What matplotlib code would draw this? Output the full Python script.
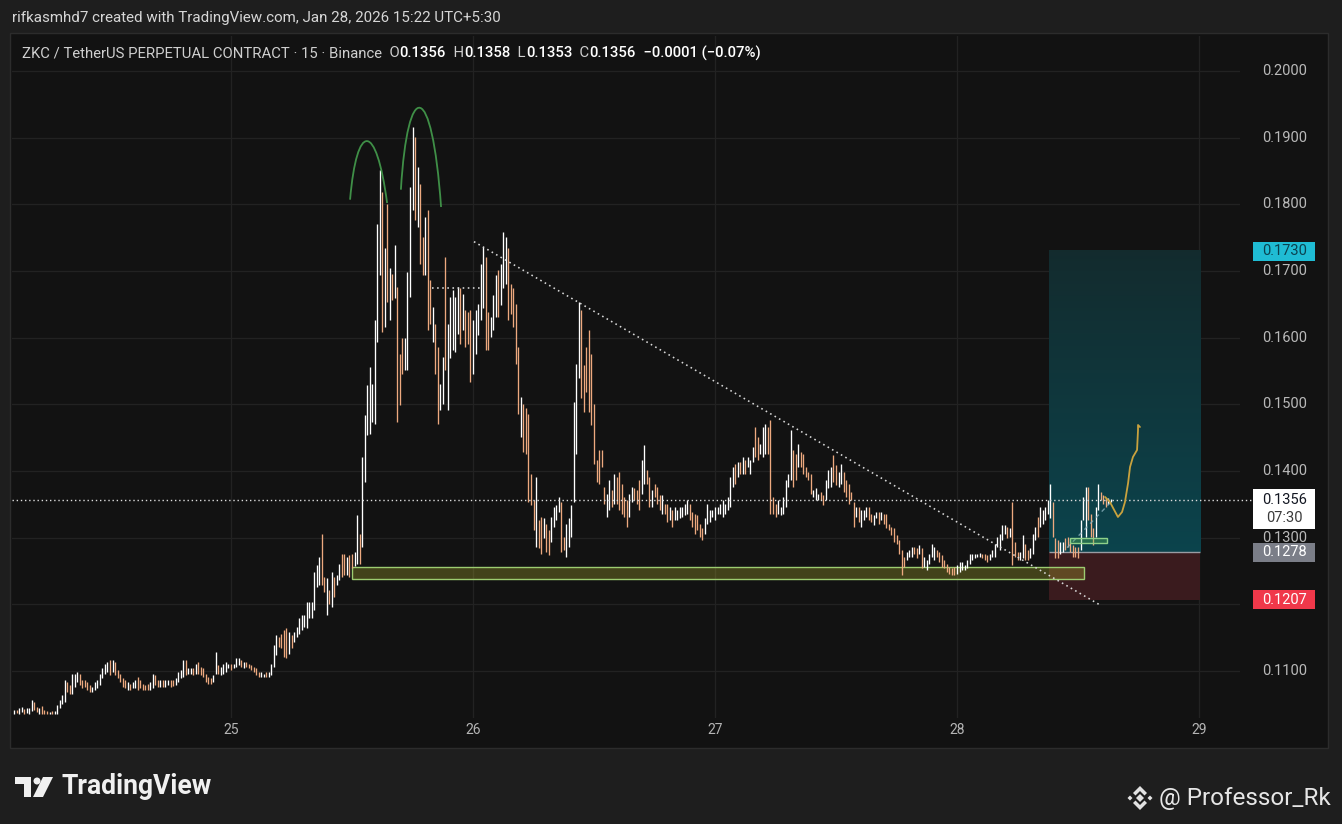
import numpy as np
import matplotlib
matplotlib.use("Agg")
import matplotlib.pyplot as plt
import matplotlib.transforms as mtransforms
from matplotlib.patches import Rectangle, Polygon, PathPatch, Ellipse
from matplotlib.path import Path

# ---------------- data ----------------
header_text = "rifkasmhd7 created with TradingView.com, Jan 28, 2026 15:22 UTC+5:30"
symbol_title = "ZKC / TetherUS PERPETUAL CONTRACT \u00b7 15 \u00b7 Binance"
last_open, last_high, last_low, last_close = 0.1356, 0.1358, 0.1353, 0.1356
change_text = "\u22120.0001 (\u22120.07%)"
countdown = "07:30"

price_ticks = [0.11, 0.12, 0.13, 0.14, 0.15, 0.16, 0.17, 0.18, 0.19, 0.20]
day_ticks = [25, 26, 27, 28, 29]

last_bar_day = 28 + 15.25 / 24      # Jan 28, 15:15 bar
bar_step_day = 15 / 1440            # 15-minute bars

bar_high = [
    0.1041, 0.1042, 0.1044, 0.1046, 0.1043, 0.1044, 0.1045, 0.1057, 0.1054, 0.1046,
    0.1044, 0.1047, 0.1041, 0.1040, 0.1039, 0.1040, 0.1040, 0.1049, 0.1056, 0.1064,
    0.1086, 0.1084, 0.1079, 0.1096, 0.1096, 0.1098, 0.1096, 0.1086, 0.1086, 0.1084,
    0.1079, 0.1076, 0.1084, 0.1086, 0.1096, 0.1104, 0.1111, 0.1114, 0.1116, 0.1116,
    0.1114, 0.1101, 0.1096, 0.1089, 0.1086, 0.1084, 0.1081, 0.1084, 0.1086, 0.1091,
    0.1086, 0.1081, 0.1079, 0.1081, 0.1084, 0.1096, 0.1094, 0.1086, 0.1086, 0.1086,
    0.1086, 0.1086, 0.1086, 0.1086, 0.1089, 0.1099, 0.1101, 0.1116, 0.1116, 0.1104,
    0.1104, 0.1104, 0.1111, 0.1114, 0.1106, 0.1104, 0.1096, 0.1091, 0.1089, 0.1094,
    0.1129, 0.1109, 0.1106, 0.1111, 0.1114, 0.1111, 0.1111, 0.1111, 0.1119, 0.1119,
    0.1116, 0.1114, 0.1114, 0.1111, 0.1109, 0.1106, 0.1104, 0.1099, 0.1099, 0.1096,
    0.1099, 0.1099, 0.1111, 0.1139, 0.1154, 0.1151, 0.1156, 0.1161, 0.1164, 0.1159,
    0.1154, 0.1159, 0.1166, 0.1179, 0.1184, 0.1184, 0.1204, 0.1204, 0.1204, 0.1249,
    0.1259, 0.1271, 0.1306, 0.1241, 0.1239, 0.1221, 0.1249, 0.1241, 0.1244, 0.1261,
    0.1276, 0.1276, 0.1271, 0.1274, 0.1276, 0.1279, 0.1334, 0.1306, 0.1421, 0.1484,
    0.1529, 0.1556, 0.1531, 0.1626, 0.1771, 0.1851, 0.1819, 0.1734, 0.1801, 0.1704,
    0.1696, 0.1739, 0.1676, 0.1576, 0.1599, 0.1599, 0.1699, 0.1826, 0.1916, 0.1901,
    0.1856, 0.1831, 0.1751, 0.1781, 0.1791, 0.1686, 0.1646, 0.1621, 0.1586, 0.1531,
    0.1571, 0.1721, 0.1621, 0.1661, 0.1671, 0.1661, 0.1676, 0.1674, 0.1666, 0.1641,
    0.1639, 0.1641, 0.1626, 0.1641, 0.1651, 0.1711, 0.1736, 0.1721, 0.1639, 0.1631,
    0.1664, 0.1694, 0.1701, 0.1711, 0.1759, 0.1751, 0.1734, 0.1681, 0.1674, 0.1651,
    0.1586, 0.1511, 0.1501, 0.1494, 0.1486, 0.1396, 0.1356, 0.1391, 0.1326, 0.1331,
    0.1329, 0.1321, 0.1311, 0.1331, 0.1346, 0.1349, 0.1361, 0.1354, 0.1301, 0.1321,
    0.1329, 0.1349, 0.1504, 0.1561, 0.1654, 0.1641, 0.1559, 0.1586, 0.1611, 0.1576,
    0.1501, 0.1416, 0.1431, 0.1431, 0.1376, 0.1366, 0.1386, 0.1371, 0.1396, 0.1391,
    0.1399, 0.1381, 0.1361, 0.1356, 0.1366, 0.1376, 0.1374, 0.1371, 0.1386, 0.1416,
    0.1439, 0.1401, 0.1391, 0.1371, 0.1381, 0.1376, 0.1364, 0.1364, 0.1351, 0.1351,
    0.1346, 0.1341, 0.1346, 0.1341, 0.1346, 0.1346, 0.1351, 0.1356, 0.1351, 0.1339,
    0.1336, 0.1334, 0.1321, 0.1314, 0.1329, 0.1351, 0.1341, 0.1341, 0.1346, 0.1346,
    0.1351, 0.1356, 0.1351, 0.1361, 0.1391, 0.1406, 0.1411, 0.1414, 0.1414, 0.1421,
    0.1416, 0.1421, 0.1416, 0.1436, 0.1466, 0.1451, 0.1441, 0.1466, 0.1471, 0.1466,
    0.1476, 0.1361, 0.1351, 0.1356, 0.1346, 0.1361, 0.1386, 0.1396, 0.1461, 0.1431,
    0.1426, 0.1441, 0.1429, 0.1426, 0.1406, 0.1399, 0.1396, 0.1371, 0.1374, 0.1366,
    0.1369, 0.1364, 0.1386, 0.1401, 0.1406, 0.1424, 0.1409, 0.1399, 0.1411, 0.1399,
    0.1386, 0.1381, 0.1369, 0.1354, 0.1346, 0.1346, 0.1341, 0.1341, 0.1346, 0.1346,
    0.1336, 0.1334, 0.1339, 0.1339, 0.1339, 0.1336, 0.1336, 0.1321, 0.1316, 0.1314,
    0.1304, 0.1296, 0.1281, 0.1271, 0.1279, 0.1281, 0.1286, 0.1286, 0.1284, 0.1289,
    0.1284, 0.1271, 0.1266, 0.1276, 0.1291, 0.1286, 0.1281, 0.1279, 0.1274, 0.1266,
    0.1261, 0.1256, 0.1254, 0.1256, 0.1259, 0.1264, 0.1264, 0.1259, 0.1266, 0.1276,
    0.1276, 0.1276, 0.1276, 0.1277, 0.1276, 0.1276, 0.1274, 0.1276, 0.1281, 0.1291,
    0.1301, 0.1306, 0.1319, 0.1319, 0.1316, 0.1314, 0.1354, 0.1294, 0.1279, 0.1279,
    0.1304, 0.1291, 0.1281, 0.1284, 0.1306, 0.1316, 0.1331, 0.1346, 0.1341, 0.1346,
    0.1356, 0.1381, 0.1354, 0.1299, 0.1296, 0.1294, 0.1294, 0.1299, 0.1301, 0.1294,
    0.1289, 0.1286, 0.1286, 0.1326, 0.1361, 0.1376, 0.1376, 0.1336, 0.1314, 0.1346,
    0.1381, 0.1369, 0.1364, 0.1359, 0.1359, 0.1358,
]

bar_low = [
    0.1036, 0.1037, 0.1036, 0.1039, 0.1036, 0.1037, 0.1036, 0.1040, 0.1041, 0.1039,
    0.1036, 0.1036, 0.1036, 0.1036, 0.1035, 0.1036, 0.1036, 0.1036, 0.1044, 0.1051,
    0.1054, 0.1069, 0.1066, 0.1066, 0.1076, 0.1084, 0.1079, 0.1074, 0.1076, 0.1071,
    0.1069, 0.1069, 0.1071, 0.1074, 0.1079, 0.1089, 0.1096, 0.1099, 0.1094, 0.1099,
    0.1094, 0.1089, 0.1084, 0.1076, 0.1074, 0.1071, 0.1071, 0.1074, 0.1074, 0.1071,
    0.1074, 0.1071, 0.1071, 0.1071, 0.1071, 0.1074, 0.1079, 0.1076, 0.1076, 0.1076,
    0.1076, 0.1079, 0.1076, 0.1078, 0.1079, 0.1084, 0.1089, 0.1091, 0.1094, 0.1096,
    0.1096, 0.1094, 0.1096, 0.1096, 0.1094, 0.1091, 0.1084, 0.1081, 0.1081, 0.1084,
    0.1096, 0.1096, 0.1094, 0.1096, 0.1099, 0.1104, 0.1101, 0.1104, 0.1106, 0.1109,
    0.1106, 0.1104, 0.1106, 0.1104, 0.1101, 0.1099, 0.1094, 0.1091, 0.1091, 0.1091,
    0.1091, 0.1091, 0.1094, 0.1106, 0.1124, 0.1136, 0.1134, 0.1121, 0.1119, 0.1126,
    0.1134, 0.1144, 0.1151, 0.1156, 0.1161, 0.1166, 0.1164, 0.1179, 0.1179, 0.1191,
    0.1226, 0.1229, 0.1229, 0.1219, 0.1184, 0.1201, 0.1196, 0.1211, 0.1229, 0.1236,
    0.1241, 0.1244, 0.1244, 0.1241, 0.1254, 0.1258, 0.1261, 0.1261, 0.1286, 0.1384,
    0.1454, 0.1456, 0.1474, 0.1471, 0.1594, 0.1694, 0.1609, 0.1616, 0.1654, 0.1626,
    0.1656, 0.1659, 0.1474, 0.1499, 0.1546, 0.1551, 0.1551, 0.1661, 0.1791, 0.1776,
    0.1766, 0.1711, 0.1694, 0.1694, 0.1611, 0.1621, 0.1594, 0.1546, 0.1471, 0.1491,
    0.1501, 0.1551, 0.1491, 0.1569, 0.1581, 0.1579, 0.1606, 0.1591, 0.1611, 0.1586,
    0.1591, 0.1534, 0.1546, 0.1576, 0.1604, 0.1626, 0.1644, 0.1581, 0.1581, 0.1601,
    0.1611, 0.1631, 0.1631, 0.1649, 0.1674, 0.1681, 0.1626, 0.1636, 0.1616, 0.1561,
    0.1486, 0.1451, 0.1429, 0.1426, 0.1354, 0.1349, 0.1311, 0.1286, 0.1284, 0.1276,
    0.1299, 0.1279, 0.1274, 0.1294, 0.1316, 0.1326, 0.1339, 0.1279, 0.1281, 0.1271,
    0.1286, 0.1301, 0.1354, 0.1426, 0.1539, 0.1509, 0.1489, 0.1519, 0.1489, 0.1469,
    0.1411, 0.1384, 0.1381, 0.1406, 0.1351, 0.1331, 0.1341, 0.1346, 0.1351, 0.1351,
    0.1341, 0.1336, 0.1331, 0.1316, 0.1331, 0.1354, 0.1356, 0.1351, 0.1341, 0.1366,
    0.1381, 0.1381, 0.1346, 0.1346, 0.1361, 0.1351, 0.1341, 0.1336, 0.1336, 0.1324,
    0.1326, 0.1316, 0.1326, 0.1326, 0.1329, 0.1331, 0.1334, 0.1336, 0.1326, 0.1316,
    0.1306, 0.1311, 0.1301, 0.1296, 0.1306, 0.1321, 0.1324, 0.1331, 0.1326, 0.1336,
    0.1336, 0.1331, 0.1336, 0.1341, 0.1346, 0.1376, 0.1381, 0.1391, 0.1396, 0.1396,
    0.1396, 0.1406, 0.1396, 0.1414, 0.1421, 0.1416, 0.1426, 0.1421, 0.1426, 0.1426,
    0.1336, 0.1336, 0.1331, 0.1336, 0.1334, 0.1336, 0.1346, 0.1376, 0.1386, 0.1376,
    0.1386, 0.1406, 0.1406, 0.1396, 0.1391, 0.1386, 0.1366, 0.1361, 0.1356, 0.1356,
    0.1356, 0.1349, 0.1356, 0.1374, 0.1376, 0.1384, 0.1379, 0.1376, 0.1381, 0.1369,
    0.1361, 0.1351, 0.1356, 0.1316, 0.1331, 0.1324, 0.1316, 0.1326, 0.1331, 0.1326,
    0.1324, 0.1319, 0.1329, 0.1321, 0.1326, 0.1321, 0.1314, 0.1311, 0.1304, 0.1294,
    0.1291, 0.1276, 0.1244, 0.1256, 0.1266, 0.1271, 0.1271, 0.1276, 0.1269, 0.1276,
    0.1254, 0.1256, 0.1251, 0.1261, 0.1271, 0.1266, 0.1271, 0.1264, 0.1256, 0.1254,
    0.1249, 0.1246, 0.1244, 0.1244, 0.1246, 0.1249, 0.1251, 0.1251, 0.1254, 0.1261,
    0.1266, 0.1269, 0.1271, 0.1271, 0.1269, 0.1266, 0.1264, 0.1266, 0.1271, 0.1271,
    0.1286, 0.1281, 0.1296, 0.1306, 0.1299, 0.1301, 0.1259, 0.1271, 0.1266, 0.1266,
    0.1269, 0.1266, 0.1266, 0.1269, 0.1276, 0.1296, 0.1301, 0.1316, 0.1321, 0.1326,
    0.1336, 0.1329, 0.1301, 0.1269, 0.1269, 0.1276, 0.1279, 0.1281, 0.1286, 0.1279,
    0.1271, 0.1271, 0.1269, 0.1281, 0.1326, 0.1301, 0.1326, 0.1301, 0.1289, 0.1301,
    0.1341, 0.1356, 0.1351, 0.1346, 0.1351, 0.1353,
]

bar_dir = (
    "uduuduuudd" "uddduduuuu" "udduuudddd" "duuuuuuudu" "ddddduduud"
    "dddduuddud" "uudduuuudu" "ududdddddu" "uduuuuduuu" "dudddddduu"
    "duuuuddddu" "duuuuuuuuu" "uuddududuu" "ddudduuduu" "uuuuuududu"
    "duddduuuud" "uddudduddu" "uduuuuudud" "dduuuuuddu" "uuduuudddd"
    "dudddddudd" "udduuuuddu" "uuuuuddddd" "ddddduudud" "dddduudddu"
    "uddudddudd" "uduuuuuudd" "dddduuuuuu" "uuuuuududu" "duuudduuud"
    "ddduuuuuud" "duddddduuu" "dduuudduud" "dddduduuud" "duududdddd"
    "dddduuuddu" "duuuuudddd" "dddduuuuuu" "uuuuddduuu" "uuuududddu"
    "udduuuduuu" "uuddduuddd" "ddduuudddu" "uddduu"
)

# trade drawings on the chart
pos_start_day, pos_end_day = 28.380, 29.004
entry_price, target_price, stop_price = 0.1278, 0.1730, 0.1207
support_days, support_prices = (25.50, 28.525), (0.1238, 0.1256)
retest_days, retest_prices = (28.467, 28.620), (0.1292, 0.1300)
trend_days, trend_prices = (26.004, 28.591), (0.1744, 0.1199)
shelf_days, shelf_prices = (25.831, 26.029), (0.1675, 0.1675)
pnl_days, pnl_prices = (28.455, 28.632), (0.1285, 0.1352)
top1_days = [25.492, 25.520, 25.600, 25.645]
top1_prices = [0.1807, 0.1925, 0.1925, 0.1802]
top2_days = [25.702, 25.730, 25.830, 25.868]
top2_prices = [0.1822, 0.1990, 0.1990, 0.1796]
proj_days = [28.612, 28.632, 28.645, 28.665, 28.682, 28.694, 28.707, 28.715,
             28.727, 28.744, 28.748, 28.748, 28.756]
proj_prices = [0.1361, 0.13535, 0.13445, 0.1331, 0.13385, 0.13535, 0.1382, 0.1406,
               0.1421, 0.14315, 0.14615, 0.1469, 0.1466]

# ---------------- styling ----------------
FAM = ["Roboto", "DejaVu Sans"]
UP_COL, DOWN_COL = "#ffffff", "#eda97f"
GRID = "#222222"

W, H = 1342, 824
fig = plt.figure(figsize=(W / 100, H / 100), dpi=100)
fig.patch.set_facecolor("#1e1e1e")


def fx(x):
    return x / W


def fy(y):
    return 1 - y / H


fig.patches.append(Rectangle((fx(10), fy(748)), fx(1328) - fx(10), fy(33) - fy(748),
                             transform=fig.transFigure, facecolor="#121212",
                             edgecolor="#2c2c2c", lw=1.0, zorder=0))

ax = fig.add_axes([fx(12), fy(718), fx(1240) - fx(12), fy(36) - fy(718)])
ax.set_zorder(1)
ax.patch.set_alpha(0)
for s in ax.spines.values():
    s.set_visible(False)
ax.set_xticks([])
ax.set_yticks([])
XLIM = (24.095, 29.1694)
YLIM = (0.10295, 0.20525)

yx_tr = mtransforms.blended_transform_factory(fig.transFigure, ax.transData)
xy_tr = mtransforms.blended_transform_factory(ax.transData, fig.transFigure)
px_per_price = (718 - 36) / (YLIM[1] - YLIM[0])

# grid
for p in price_ticks:
    ax.axhline(p, color=GRID, lw=0.9, zorder=0.5)
for d in day_ticks:
    ax.axvline(d, color=GRID, lw=0.9, zorder=0.5)

# position tool (long)
top_c = np.array([0.075, 0.170, 0.180])
bot_c = np.array([0.045, 0.265, 0.300])
g = np.linspace(0, 1, 256)[:, None, None]
grad = bot_c[None, None, :] * (1 - g) + top_c[None, None, :] * g
ax.imshow(grad, origin="lower", aspect="auto", interpolation="bilinear",
          extent=[pos_start_day, pos_end_day, entry_price, target_price], zorder=1)
ax.add_patch(Rectangle((pos_start_day, stop_price), pos_end_day - pos_start_day,
                       entry_price - stop_price, facecolor="#3a1b1e", edgecolor="none", zorder=1))
ax.hlines(entry_price, pos_start_day, pos_end_day, color="#9a9ca3", lw=1.0, zorder=2)

# zones
ax.add_patch(Rectangle((support_days[0], support_prices[0]), support_days[1] - support_days[0],
                       support_prices[1] - support_prices[0],
                       facecolor=(0.78, 0.78, 0.2, 0.27), edgecolor="#9ccc70", lw=1.0, zorder=2))
ax.add_patch(Rectangle((retest_days[0], retest_prices[0]), retest_days[1] - retest_days[0],
                       retest_prices[1] - retest_prices[0],
                       facecolor=(0.35, 0.75, 0.35, 0.35), edgecolor="#8fd18a", lw=1.0, zorder=6))

# candles
n = min(len(bar_high), len(bar_low), len(bar_dir))
t = last_bar_day - (n - 1 - np.arange(n)) * bar_step_day
cols = [UP_COL if c == "u" else DOWN_COL for c in bar_dir[:n]]
ax.vlines(t, bar_low[:n], bar_high[:n], colors=cols, lw=0.95, zorder=4)

# lines
ax.plot(trend_days, trend_prices, color="#dadada", lw=1.15, ls=(0, (1, 2.2)), zorder=5)
ax.plot(shelf_days, shelf_prices, color="#dadada", lw=1.15, ls=(0, (1, 2.2)), zorder=5)
ax.plot(pnl_days, pnl_prices, color="#88aebb", lw=1.0, ls=(0, (3, 3)), alpha=0.8, zorder=5)
ax.plot([fx(12), fx(1252)], [last_close, last_close], transform=yx_tr, clip_on=False,
        color="#dddddd", lw=1.0, ls=(0, (1, 2)), zorder=5)

codes = [Path.MOVETO, Path.CURVE4, Path.CURVE4, Path.CURVE4]
for dd, pp in ((top1_days, top1_prices), (top2_days, top2_prices)):
    ax.add_patch(PathPatch(Path(list(zip(dd, pp)), codes), fill=False,
                           edgecolor="#3f8f47", lw=1.3, zorder=6))
ax.plot(proj_days, proj_prices, color="#c9a23e", lw=1.3, zorder=6,
        solid_joinstyle="round", solid_capstyle="round")

ax.set_xlim(*XLIM)
ax.set_ylim(*YLIM)

# price axis labels (a label fully covered by the stop box is hidden, as in the chart)
for p in price_ticks:
    if abs(p - stop_price) * px_per_price < 12:
        continue
    ax.text(fx(1285), p, f"{p:.4f}", transform=yx_tr, ha="center", va="center",
            fontsize=10.5, color="#b9b9b9", family=FAM, clip_on=False, zorder=3)
for d in day_ticks:
    ax.text(d, fy(730), f"{d}", transform=xy_tr, ha="center", va="center",
            fontsize=10, color="#b5b5b5", family=FAM, clip_on=False, zorder=3)


def price_box(price, text, face, tcolor, h_above=9.5, h_below=9.5):
    y0 = price - h_below / px_per_price
    hh = (h_above + h_below) / px_per_price
    ax.add_patch(Rectangle((fx(1253), y0), fx(1315) - fx(1253), hh, transform=yx_tr,
                           facecolor=face, edgecolor="none", clip_on=False, zorder=10))
    ax.text(fx(1284.5), price, text, transform=yx_tr, ha="center", va="center",
            fontsize=10.5, color=tcolor, family=FAM, clip_on=False, zorder=11)


price_box(target_price, f"{target_price:.4f}", "#1fbcd4", "#0b4250")
price_box(entry_price, f"{entry_price:.4f}", "#7b7e88", "#ffffff")
price_box(stop_price, f"{stop_price:.4f}", "#f0384a", "#ffffff")
price_box(last_close, f"{last_close:.4f}", "#ffffff", "#131722", h_above=11, h_below=29)
ax.text(fx(1284.5), last_close - 18 / px_per_price, countdown, transform=yx_tr,
        ha="center", va="center", fontsize=10.5, color="#3a3a3a", family=FAM,
        clip_on=False, zorder=11)

# ---------------- header texts ----------------
renderer = fig.canvas.get_renderer()


def fitted_size(s, target_w, weight="normal", base=10.0):
    tt = fig.text(0, 0, s, fontsize=base, family=FAM, fontweight=weight)
    w = tt.get_window_extent(renderer).width
    tt.remove()
    return base * target_w / w


fs_h = fitted_size(header_text, 488)
fig.text(fx(12), fy(18), header_text, fontsize=fs_h, family=FAM, color="#d6d6d6",
         va="center", ha="left")

pieces = [(symbol_title, "#cfcfcf", "normal"),
          ("  O", "#cfcfcf", "normal"), (f"{last_open:.4f}", "#ffffff", "medium"),
          ("  H", "#cfcfcf", "normal"), (f"{last_high:.4f}", "#ffffff", "medium"),
          ("  L", "#cfcfcf", "normal"), (f"{last_low:.4f}", "#ffffff", "medium"),
          ("  C", "#cfcfcf", "normal"), (f"{last_close:.4f}", "#ffffff", "medium"),
          ("  " + change_text, "#ffffff", "medium")]
fs_l = fitted_size("".join(p[0] for p in pieces), 735)
xcur = 22
for s, c, wt in pieces:
    tt = fig.text(fx(xcur), fy(53), s, fontsize=fs_l, family=FAM, color=c,
                  fontweight=wt, va="center", ha="left")
    xcur += tt.get_window_extent(renderer).width

# ---------------- footer ----------------
def figpoly(pts, color):
    fig.patches.append(Polygon([(fx(a), fy(b)) for a, b in pts], closed=True,
                               transform=fig.transFigure, facecolor=color,
                               edgecolor="none", zorder=3))


figpoly([(15, 777), (31, 777), (31, 797), (24, 797), (24, 784), (15, 784)], "#f0f0f0")
figpoly([(43, 777), (53, 777), (43, 797), (33, 797)], "#f0f0f0")
fig.patches.append(Ellipse((fx(37), fy(781)), 7 / W, 7 / H, transform=fig.transFigure,
                           facecolor="#f0f0f0", edgecolor="none", zorder=3))
fs_tv = fitted_size("TradingView", 151, weight="bold")
fig.text(fx(61), fy(787), "TradingView", fontsize=fs_tv, family=FAM, fontweight="bold",
         color="#f0f0f0", va="center", ha="left")

# binance-style mark
cx, cy = 1140, 798
figpoly([(cx - 4, cy), (cx, cy - 4), (cx + 4, cy), (cx, cy + 4)], "#e2e2e2")
for sx in (-10, 10):
    figpoly([(cx + sx - 2.5, cy), (cx + sx, cy - 2.5), (cx + sx + 2.5, cy), (cx + sx, cy + 2.5)],
            "#e2e2e2")
figpoly([(cx - 7, cy - 5), (cx, cy - 12), (cx + 7, cy - 5), (cx + 4.5, cy - 2.5),
         (cx, cy - 7), (cx - 4.5, cy - 2.5)], "#e2e2e2")
figpoly([(cx - 7, cy + 5), (cx, cy + 12), (cx + 7, cy + 5), (cx + 4.5, cy + 2.5),
         (cx, cy + 7), (cx - 4.5, cy + 2.5)], "#e2e2e2")
fs_pr = fitted_size("@ Professor_Rk", 173)
fig.text(fx(1159), fy(798), "@ Professor_Rk", fontsize=fs_pr, family=FAM,
         color="#e6e6e6", va="center", ha="left")

fig.savefig("out.png", dpi=100, facecolor=fig.get_facecolor())
